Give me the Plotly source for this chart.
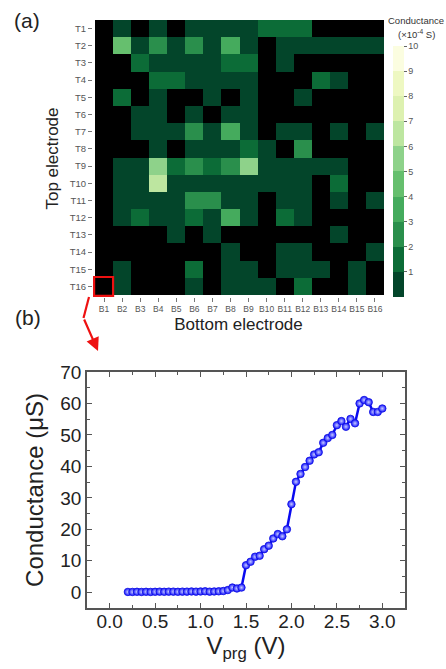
import plotly.graph_objects as go

W, H = 446, 669

# ---------------- data ----------------
bottom_labels = [f"B{i}" for i in range(1, 17)]
top_labels = [f"T{i}" for i in range(1, 17)]

# conductance map (x1e-4 S); None = non-conducting (black)
N = None
conductance_map = [
    [N, 0.5, N, 0.5, N, 0.5, 0.5, 0.5, 0.5, 1.5, 1.5, 1.5, N, N, N, N],
    [N, 4.5, 0.5, 2.5, 0.5, 2.5, 0.5, 3.5, 0.5, N, 0.5, 0.5, 0.5, 0.5, 0.5, 0.5],
    [N, N, 1.5, 0.5, 0.5, 0.5, 0.5, 1.5, 1.5, N, 0.5, N, N, N, N, N],
    [N, N, N, 1.5, 1.5, 0.5, 0.5, 0.5, 0.5, N, N, N, 1.5, 0.5, N, N],
    [N, 1.5, N, 0.5, N, N, 0.5, N, 0.5, N, N, 0.5, N, N, N, N],
    [N, N, 0.5, 0.5, N, 0.5, N, 0.5, 0.5, N, N, N, N, N, N, N],
    [N, N, 0.5, 0.5, 0.5, 2.5, 0.5, 3.5, 0.5, N, 0.5, 0.5, N, 0.5, N, 0.5],
    [N, N, N, 0.5, N, 0.5, 0.5, 0.5, 1.5, 0.5, N, 2.5, N, N, N, N],
    [N, 0.5, 0.5, 5.5, 1.5, 2.5, 1.5, 2.5, 5.5, 0.5, 0.5, 0.5, 0.5, 0.5, N, N],
    [N, 0.5, 0.5, 6.5, 0.5, 0.5, 0.5, 0.5, 0.5, 0.5, 0.5, 0.5, N, 1.5, N, N],
    [N, 0.5, 0.5, 0.5, 0.5, 2.5, 2.5, 0.5, 0.5, N, 0.5, 0.5, N, 0.5, N, 0.5],
    [N, 0.5, 1.5, 0.5, 0.5, 1.5, 0.5, 3.5, 0.5, N, 1.5, 0.5, N, N, N, N],
    [N, N, N, N, 0.5, N, 0.5, N, N, N, N, N, N, 0.5, N, N],
    [N, N, N, N, N, N, N, 0.5, N, N, 0.5, 0.5, N, N, N, 0.5],
    [N, 0.5, N, N, N, 1.5, N, 0.5, 0.5, N, 0.5, 0.5, 0.5, N, 0.5, N],
    [N, 0.5, N, N, N, 0.5, N, 0.5, 0.5, 0.5, N, 1.5, N, N, 0.5, N],
]
colorbar_ticks = [1, 2, 3, 4, 5, 6, 7, 8, 9, 10]

v_prg = [0.20, 0.25, 0.30, 0.35, 0.40, 0.45, 0.50, 0.55, 0.60, 0.65,
         0.70, 0.75, 0.80, 0.85, 0.90, 0.95, 1.00, 1.05, 1.10, 1.15,
         1.20, 1.25, 1.30, 1.35, 1.40, 1.45, 1.50, 1.55, 1.60, 1.65,
         1.70, 1.75, 1.80, 1.85, 1.90, 1.95, 2.00, 2.05, 2.10, 2.15,
         2.20, 2.25, 2.30, 2.35, 2.40, 2.45, 2.50, 2.55, 2.60, 2.65,
         2.70, 2.75, 2.80, 2.85, 2.90, 2.95, 3.00]
conductance_uS = [0.1, 0.1, 0.15, 0.1, 0.15, 0.1, 0.15, 0.2, 0.15, 0.2,
                  0.2, 0.15, 0.2, 0.2, 0.25, 0.2, 0.25, 0.3, 0.2, 0.25,
                  0.3, 0.4, 0.7, 1.5, 1.2, 1.5, 8.6, 9.7, 11.3, 11.6,
                  13.7, 14.8, 17.1, 18.5, 17.8, 20.0, 28.0, 35.1, 37.6, 39.8,
                  41.8, 43.8, 44.5, 47.5, 49.0, 50.0, 53.1, 54.4, 52.6, 55.1,
                  53.7, 60.0, 61.1, 60.4, 57.3, 57.3, 58.4]

# ---------------- styles ----------------
bin_colors = ["#03452a", "#0c6c37", "#2a8f4c", "#45ab5d", "#66bf6e",
              "#8ed28a", "#bde6a0", "#ddf1b0", "#eef8c2", "#fbfde0"]
colorscale = []
for i, c in enumerate(bin_colors):
    colorscale.append([i / 10, c])
    colorscale.append([(i + 1) / 10, c])

FONT = "Arial, Liberation Sans, sans-serif"


def px(x):
    return x / W


def py(y):
    return 1 - y / H


fig = go.Figure()

fig.add_trace(go.Heatmap(
    z=conductance_map, x=bottom_labels, y=top_labels,
    zmin=0, zmax=10, colorscale=colorscale, xgap=0, ygap=0,
    hoverongaps=False,
    colorbar=dict(
        x=px(393), xanchor="left", xref="paper",
        y=py(297), yanchor="bottom", yref="paper",
        len=(297 - 46) / H, lenmode="fraction",
        thickness=11, thicknessmode="pixels",
        xpad=0, ypad=0, outlinewidth=0,
        ticks="outside", ticklen=3, tickcolor="#666",
        tickvals=colorbar_ticks,
        tickfont=dict(family=FONT, size=9, color="#555"),
    ),
    xaxis="x", yaxis="y",
))

fig.add_trace(go.Scatter(
    x=v_prg, y=conductance_uS, mode="lines+markers",
    line=dict(color="#0a0af0", width=2.5),
    marker=dict(size=7.5, color="#1010ff",
                gradient=dict(type="radial", color="#c8ccff"),
                line=dict(width=0.8, color="#1010e0")),
    xaxis="x2", yaxis="y2", showlegend=False,
))

shapes = [
    # black background for non-conducting cells
    dict(type="rect", xref="x", yref="y", x0=-0.5, x1=15.5, y0=-0.5, y1=15.5,
         fillcolor="black", line=dict(width=0), layer="below"),
    # red box around T16/B1
    dict(type="rect", xref="x", yref="y", x0=-0.55, x1=0.5, y0=14.45, y1=15.55,
         line=dict(color="#ee1111", width=2.2), layer="above"),
    # red connector line
    dict(type="line", xref="paper", yref="paper",
         x0=px(89), y0=py(297), x1=px(83.5), y1=py(318),
         line=dict(color="#ee1111", width=2.2)),
]


def label(text, x, y, size, color="#222"):
    return dict(text=text, x=px(x), y=py(y), xref="paper", yref="paper",
                xanchor="center", yanchor="middle", showarrow=False,
                font=dict(family=FONT, size=size, color=color))


annotations = [
    label("(a)", 27, 21, 21),
    label("(b)", 28, 317, 21),
    label("Conductance", 416, 20, 9.5, "#333"),
    label("(×10<sup>-4</sup> S)", 416, 34, 9.5, "#333"),
    dict(text="", x=px(98), y=py(351), xref="paper", yref="paper",
         ax=-14.5, ay=-33, axref="pixel", ayref="pixel",
         showarrow=True, arrowhead=2, arrowsize=1.2, arrowwidth=2.2,
         arrowcolor="#ee1111"),
]

fig.update_layout(
    width=W, height=H, autosize=False,
    margin=dict(l=0, r=0, t=0, b=0, pad=0, autoexpand=False),
    paper_bgcolor="white", plot_bgcolor="white",
    font=dict(family=FONT, color="#222"),
    shapes=shapes, annotations=annotations,
    xaxis=dict(
        domain=[px(93), px(384)], anchor="y",
        type="category", showgrid=False, zeroline=False, showline=False,
        ticks="outside", ticklen=4, tickcolor="#777", tickwidth=1,
        tickangle=0,
        tickfont=dict(family=FONT, size=8.5, color="#555"),
        title=dict(text="Bottom electrode", standoff=4,
                   font=dict(family=FONT, size=17, color="#222")),
    ),
    yaxis=dict(
        domain=[py(297), py(20)], anchor="x",
        type="category", autorange="reversed",
        showgrid=False, zeroline=False, showline=False,
        ticks="outside", ticklen=4, tickcolor="#777", tickwidth=1,
        tickfont=dict(family=FONT, size=9.5, color="#555"),
        title=dict(text="Top electrode", standoff=6,
                   font=dict(family=FONT, size=17, color="#222")),
    ),
    xaxis2=dict(
        domain=[px(87), px(405)], anchor="y2",
        range=[-0.25, 3.25], tickvals=[0, 0.5, 1.0, 1.5, 2.0, 2.5, 3.0],
        tickformat=".1f",
        showgrid=False, zeroline=False,
        showline=True, linecolor="#555", linewidth=1.5, mirror="allticks",
        ticks="inside", ticklen=5, tickcolor="#555", tickwidth=1.2,
        minor=dict(ticks="inside", ticklen=3, dtick=0.25, tick0=0,
                   tickcolor="#555", showgrid=False),
        ticklabelstandoff=-5,
        tickfont=dict(family=FONT, size=19, color="#222"),
        title=dict(text="V<sub>prg</sub> (V)", standoff=0,
                   font=dict(family=FONT, size=24, color="#222")),
    ),
    yaxis2=dict(
        domain=[py(608), py(372)], anchor="x2",
        range=[-5, 70], tickvals=[0, 10, 20, 30, 40, 50, 60, 70],
        showgrid=False, zeroline=False,
        showline=True, linecolor="#555", linewidth=1.5, mirror="allticks",
        ticks="inside", ticklen=5, tickcolor="#555", tickwidth=1.2,
        minor=dict(ticks="inside", ticklen=3, dtick=5, tick0=0,
                   tickcolor="#555", showgrid=False),
        tickfont=dict(family=FONT, size=19, color="#222"),
        title=dict(text="Conductance (μS)", standoff=10,
                   font=dict(family=FONT, size=24, color="#222")),
    ),
)

fig.write_html("out.html")
